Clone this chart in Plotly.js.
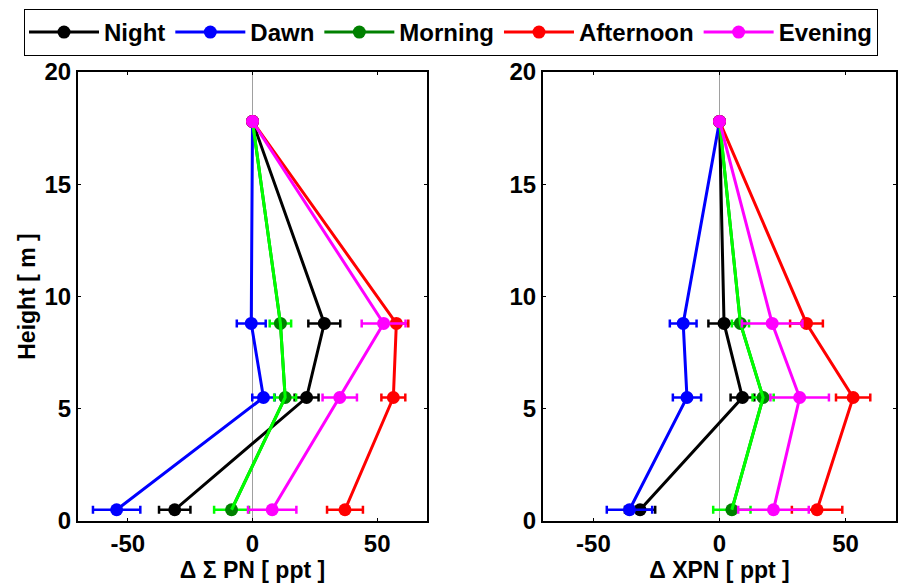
<!DOCTYPE html>
<html>
<head>
<meta charset="utf-8">
<script src="https://cdn.plot.ly/plotly-3.0.1.min.js"></script>
<style>html,body{margin:0;padding:0;background:#fff}#chart{width:904px;height:585px}</style>
</head>
<body>
<div id="chart"></div>
<script>
// Heights (m) of the measurement levels
const heights = [0.5, 5.5, 8.8, 17.8];

// Series names
const seriesNames = ['Night', 'Dawn', 'Morning', 'Afternoon', 'Evening'];

// Left panel: Δ Σ PN [ppt]
const sumPN_Night     = [-31.2, 21.7, 28.8, 0];
const sumPN_Dawn      = [-54.5, 4.4, -0.5, 0];
const sumPN_Morning   = [-8.4, 13.1, 11.2, 0];
const sumPN_Afternoon = [37.1, 56.5, 57.7, 0];
const sumPN_Evening   = [7.9, 35.0, 52.6, 0];
const sumPNErr_Night     = [6.3, 4.8, 6.4, null];
const sumPNErr_Dawn      = [9.5, 4.5, 5.8, null];
const sumPNErr_Morning   = [7.0, 4.4, 4.3, null];
const sumPNErr_Afternoon = [7.2, 4.8, 4.8, null];
const sumPNErr_Evening   = [9.7, 6.9, 8.8, null];

// Right panel: Δ XPN [ppt]
const xPN_Night     = [-31.5, 9.1, 1.8, 0];
const xPN_Dawn      = [-35.7, -12.9, -14.4, 0];
const xPN_Morning   = [4.9, 17.3, 8.3, 0];
const xPN_Afternoon = [38.7, 53.0, 34.5, 0];
const xPN_Evening   = [21.4, 31.8, 20.9, 0];
const xPNErr_Night     = [6.0, 4.7, 6.2, null];
const xPNErr_Dawn      = [9.0, 5.6, 5.3, null];
const xPNErr_Morning   = [7.4, 4.2, 3.4, null];
const xPNErr_Afternoon = [10.0, 6.8, 6.5, null];
const xPNErr_Evening   = [14.0, 11.6, 12.0, null];

// Tick labels
const xTickVals = [-50, 0, 50];
const xTickText = ['-50', '0', '50'];
const yTickVals = [0, 5, 10, 15, 20];
const yTickText = ['0', '5', '10', '15', '20'];

// Styles
const lineColors   = {Night:'#000000', Dawn:'#0000ff', Morning:'#00ff00', Afternoon:'#ff0000', Evening:'#ff00ff'};
const markerColors = {Night:'#000000', Dawn:'#0000ff', Morning:'#008000', Afternoon:'#ff0000', Evening:'#ff00ff'};

const leftData = {
  Night:[sumPN_Night, sumPNErr_Night], Dawn:[sumPN_Dawn, sumPNErr_Dawn],
  Morning:[sumPN_Morning, sumPNErr_Morning], Afternoon:[sumPN_Afternoon, sumPNErr_Afternoon],
  Evening:[sumPN_Evening, sumPNErr_Evening]
};
const rightData = {
  Night:[xPN_Night, xPNErr_Night], Dawn:[xPN_Dawn, xPNErr_Dawn],
  Morning:[xPN_Morning, xPNErr_Morning], Afternoon:[xPN_Afternoon, xPNErr_Afternoon],
  Evening:[xPN_Evening, xPNErr_Evening]
};

const traces = [];
function addPanel(data, xa, ya, showLegend) {
  seriesNames.forEach(name => {
    const [vals, errs] = data[name];
    traces.push({
      type:'scatter', mode:'lines+markers', name:name,
      x: vals, y: heights, xaxis: xa, yaxis: ya,
      legendgroup: name, showlegend: showLegend,
      line: {color: markerColors[name], width: 3},
      marker: {color: markerColors[name], size: 13},
      error_x: {type:'data', array: errs, visible: true, color: lineColors[name], thickness: 2.5, width: 4}
    });
    if (name === 'Morning') {
      traces.push({
        type:'scatter', mode:'lines', name:name,
        x: vals, y: heights, xaxis: xa, yaxis: ya,
        legendgroup: name, showlegend: false, hoverinfo:'skip',
        line: {color: lineColors[name], width: 3}
      });
    }
  });
}
addPanel(leftData, 'x', 'y', true);
addPanel(rightData, 'x2', 'y2', false);

const FAM = 'Liberation Sans, Arial, sans-serif';
const tickFont = {family: FAM, size: 24, color:'#000', weight:'bold'};
const titleFont = {family: FAM, size: 23, color:'#000', weight:'bold'};

function xAxis(domain, anchor, title) {
  return {
    domain: domain, anchor: anchor, range: [-70, 70],
    tickvals: xTickVals, ticktext: xTickText,
    ticks: 'inside', ticklen: 3, tickwidth: 1, tickcolor: '#000',
    showline: true, linecolor: '#000', linewidth: 2, mirror: 'ticks',
    showgrid: false, zeroline: true, zerolinecolor: '#a0a0a0', zerolinewidth: 1,
    tickfont: tickFont,
    title: {text: title, font: titleFont, standoff: 4}
  };
}
function yAxis(domain, anchor, title) {
  return {
    domain: domain, anchor: anchor, range: [0, 20],
    tickvals: yTickVals, ticktext: yTickText,
    ticks: 'inside', ticklen: 3, tickwidth: 1, tickcolor: '#000',
    showline: true, linecolor: '#000', linewidth: 2, mirror: 'ticks',
    showgrid: false, zeroline: false,
    tickfont: tickFont,
    title: {text: title, font: titleFont, standoff: 2}
  };
}

const yDom = [(585-521)/585, (585-72)/585];
const layout = {
  width: 904, height: 585,
  margin: {l:0, r:0, t:0, b:0},
  paper_bgcolor: '#fff', plot_bgcolor: '#fff',
  showlegend: true,
  legend: {
    orientation: 'h', x: 24/904, y: 1 - 9/585, xanchor: 'left', yanchor: 'top',
    bordercolor: '#000', borderwidth: 1, bgcolor: '#fff',
    font: {family: FAM, size: 24, color:'#000', weight:'bold'},
    itemwidth: 70, tracegroupgap: 0
  },
  xaxis: xAxis([78/904, 427/904], 'y', 'Δ Σ PN [ ppt ]'),
  yaxis: yAxis(yDom, 'x', 'Height [ m ]'),
  xaxis2: xAxis([543/904, 896/904], 'y2', 'Δ XPN [ ppt ]'),
  yaxis2: yAxis(yDom, 'x2', '')
};

Plotly.newPlot('chart', traces, layout, {displayModeBar: false, staticPlot: true});
</script>
</body>
</html>
